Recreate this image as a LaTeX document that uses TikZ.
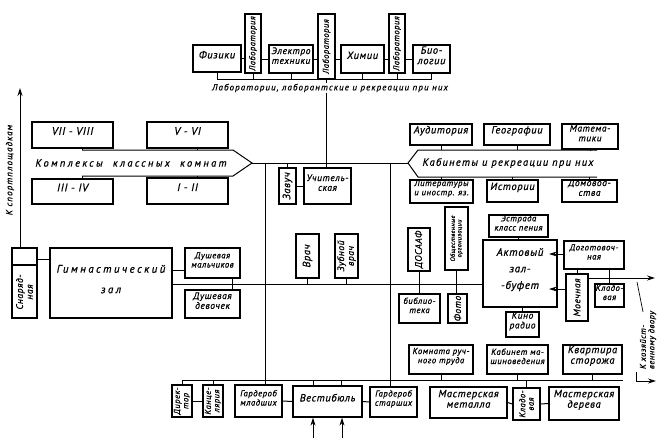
\documentclass[tikz,border=0pt]{standalone}
\usepackage{fontspec}
\setmainfont{PT Sans}
\newfontfamily\drA{PT Sans}[LetterSpace=6,FakeBold=0.6]
\newfontfamily\drB{PT Sans}[LetterSpace=12,FakeBold=0.6]
\newfontfamily\drC{PT Sans}[LetterSpace=22,FakeBold=0.6]
\usetikzlibrary{fit,arrows.meta}
\newcommand\tA{\drA\itshape\fontsize{10.5}{10.5}\selectfont}
\newcommand\tM{\drA\itshape\fontsize{9.5}{9.8}\selectfont}
\newcommand\tN{\drA\itshape\fontsize{8.7}{9.2}\selectfont}
\newcommand\tS{\drA\itshape\fontsize{8.5}{8.5}\selectfont}
\newcommand\tT{\drA\itshape\fontsize{6.3}{6.5}\selectfont}
\newcommand\tL{\drB\itshape\fontsize{9}{9.5}\selectfont}
\newcommand\tK{\drB\itshape\fontsize{10.5}{11}\selectfont}
\newcommand\tW{\drC\itshape\fontsize{10.5}{11}\selectfont}
\newcommand\tG{\drC\itshape\fontsize{11}{11.5}\selectfont}
\newcommand\tR{\drA\itshape\fontsize{11}{11.5}\selectfont}
\newcommand\Bx[5][]{\node[bx,fit={#3 #4},#1] (#2) {#5};}
\newcommand\Rb[5][]{\node[bx,fit={#3 #4}] (#2) {}; \node[rt,#1] (#2t) at (#2.center) {#5};}
\begin{document}
\begin{tikzpicture}[x=1pt,y=-1pt,
  bx/.style={draw,line width=1.3pt,inner sep=0pt,align=center,font=\tA},
  rt/.style={rotate=90,align=center,inner sep=0pt,font=\tM},
  ln/.style={line width=1pt},
  arr/.style={ln,-{Stealth[length=8pt,width=5pt]}}]
\useasboundingbox (0,0) rectangle (671,442);
\fill[white] (0,0) rectangle (671,442);

% ---------- top: laboratories ----------
\Bx{fiz}{(193,45)}{(241,72)}{Физики}
\Rb[font=\tS]{lab1}{(245,14)}{(261,73)}{Лаборатория}
\Bx[font=\tM]{elec}{(269,45)}{(313,73)}{Электро\\техники}
\Rb[font=\tS]{lab2}{(318,14)}{(335,79)}{Лаборатория}
\Bx{chem}{(341,45)}{(384,73)}{Химии}
\Rb[font=\tS]{lab3}{(389,14)}{(405,73)}{Лаборатория}
\Bx{bio}{(413,45)}{(450,73)}{Био-\\логии}
\draw[ln] (fiz.east) -- (fiz.east -| lab1.west);
\draw[ln] (lab1.east |- elec.west) -- (elec.west);
\draw[ln] (elec.east) -- (elec.east -| lab2.west);
\draw[ln] (lab2.east |- chem.west) -- (chem.west);
\draw[ln] (chem.east) -- (chem.east -| lab3.west);
\draw[ln] (lab3.east |- bio.west) -- (bio.west);
\coordinate (bT) at (0,79);
\draw[ln] (fiz.south) -- (fiz.south |- bT) -- (bio.south |- bT) -- (bio.south);
\foreach \n in {lab1,elec,chem,lab3} \draw[ln] (\n.south) -- (\n.south |- bT);

% ---------- middle column ----------
\Rb[font=\tA]{zav}{(279,168)}{(296,204)}{Завуч}
\Bx[font=\tM]{uch}{(304,168)}{(351,204)}{Учитель-\\ская}
\draw[ln] (lab2.south) -- (lab2.south |- uch.north);
\node[fill=white,inner sep=0.6pt,font=\tL] (labl) at (330,88) {Лаборатории, лаборантские и рекреации при них};
\draw[ln] (zav.east) -- (uch.west);

% ---------- class complexes ----------
\Bx[font=\tR]{c78}{(32,122)}{(113,148)}{VII - VIII}
\Bx[font=\tR]{c56}{(147,122)}{(228,148)}{V - VI}
\Bx[font=\tR]{c34}{(32,179)}{(113,204)}{III - IV}
\Bx[font=\tR]{c12}{(147,178)}{(228,204)}{I - II}
\coordinate (kTL) at (82,150); \coordinate (kTR) at (233,150);
\coordinate (kP) at (252,163);
\coordinate (kBR) at (233,176); \coordinate (kBL) at (82,176);
\coordinate (k56) at (197,150);
\draw[ln] (kTL) -- (kTR) -- (kP) -- (kBR) -- (kBL);
\draw[ln] (c78.south -| kTL) -- (kTL);
\draw[ln] (c34.north -| kBL) -- (kBL);
\draw[ln] (c56.south -| k56) -- (k56);
\draw[ln] (c12.north -| k56) -- (k56 |- kBL);
\node[font=\tW,inner sep=0pt] (kt) at (131,163) {Комплексы\ \ классных\ \ комнат};

% ---------- cabinets ----------
\Bx{aud}{(410,124)}{(472,145)}{Аудитория}
\Bx{geo}{(484,124)}{(550,145)}{Географии}
\Bx[font=\tM]{mat}{(562,124)}{(618,149)}{Матема-\\тики}
\Bx[font=\tN]{lit}{(410,180)}{(473,203)}{Литературы\\и иностр. яз.}
\Bx{ist}{(487,180)}{(538,202)}{Истории}
\Bx[font=\tM]{dom}{(562,180)}{(617,202)}{Домовод-\\ства}
\coordinate (cP) at (408,163);
\coordinate (cTL) at (418,150); \coordinate (cTR) at (597,150);
\coordinate (cBL) at (418,177); \coordinate (cBR) at (597,177);
\draw[ln] (cTR) -- (cTL) -- (cP) -- (cBL) -- (cBR);
\foreach \n in {aud,geo,mat} \draw[ln] (\n.south) -- (\n.south |- cTL);
\foreach \n in {lit,ist,dom} \draw[ln] (\n.north) -- (\n.north |- cBL);
\node[font=\tK,inner sep=0pt] (ct) at (508,163) {Кабинеты и рекреации при них};
\draw[ln] (kP) -- (cP);
\draw[ln] (zav.north) -- (zav.north |- kP);

% ---------- doctors, DOSAAF etc ----------
\coordinate (mb) at (0,284);
\Rb[font=\tA]{vr}{(296,234)}{(319,278)}{Врач}
\Rb{zvr}{(335,234)}{(358,278)}{Зубной\\врач}
\draw[ln] (vr.south) -- (vr.south |- mb);
\draw[ln] (zvr.south) -- (zvr.south |- mb);
\Rb{dos}{(408,228)}{(430,271)}{ДОСААФ}
\Rb[font=\tT]{obs}{(445,207)}{(468,270)}{Общественные\\организации}
\Bx[font=\tN]{bib}{(399,294)}{(440,323)}{библио-\\тека}
\Rb{foto}{(448,294)}{(467,323)}{Фото}
\draw[ln] (dos.south) -- (dos.south |- bib.north);
\draw[ln] (obs.south) -- (obs.south |- foto.north);

% ---------- assembly hall ----------
\Bx[font=\tR]{akt}{(483,240)}{(557,307)}{Актовый\\[5pt]зал-\\[5pt]-буфет}
\Bx[font=\tN]{estr}{(489,215)}{(548,237)}{Эстрада\\класс пения}
\Bx[font=\tM]{kino}{(506,312)}{(539,337)}{Кино\\радио}
\Bx[font=\tN]{dog}{(564,241)}{(624,269)}{Доготовоч-\\ная}
\Rb{moe}{(566,274)}{(588,321)}{Моечная}
\Bx[font=\tN]{klad1}{(595,284)}{(624,307)}{Кладо-\\вая}
\draw[ln] (estr.south) -- (estr.south |- akt.north);
\draw[ln] (kino.north) -- (kino.north |- akt.south);
\draw[ln] (moe.north) -- (moe.north |- dog.south);
\draw[ln] (klad1.north) -- (klad1.north |- dog.south);
\coordinate (a1) at (549,254); \coordinate (a2) at (549,289);
\draw[arr] (dog.west |- a1) -- (a1);
\draw[arr] (moe.west |- a2) -- (a2);
\coordinate (eR) at (655,278);
\draw[arr] (moe.east |- eR) -- (eR);
\coordinate (ld1) at (637,282); \coordinate (ld2) at (643,312);
\draw[line width=0.7pt] (ld1) -- (ld2);

% ---------- gym ----------
\node[bx,fit={(12,248) (37,318)}] (snar) {};
\coordinate (sd) at (0,265);
\draw[line width=1.3pt] (snar.west |- sd) -- (snar.east |- sd);
\node[rt] (snart) at (24.5,292) {Снаряд-\\ная};
\Bx[font=\tG]{gym}{(50,248)}{(172,318)}{Гимнастический\\[9pt]зал}
\Bx[font=\tN]{dm}{(185,248)}{(240,278)}{Душевая\\мальчиков}
\Bx[font=\tM]{dd}{(185,290)}{(240,318)}{Душевая\\девочек}
\coordinate (sg) at (0,259); \coordinate (gd) at (0,270); \coordinate (dx) at (232,0);
\draw[ln] (snar.east |- sg) -- (gym.west |- sg);
\draw[ln] (gym.east |- gd) -- (dm.west |- gd);
\draw[ln] (dm.south -| dx) -- (dd.north -| dx);
\draw[ln] (gym.east |- mb) -- (akt.west |- mb);
\coordinate (sp) at (20,88);
\draw[arr] (snar.north -| sp) -- (sp);
\node[rt,font=\tL] (spl) at (10,170) {К спортплощадкам};

% ---------- bottom row ----------
\Rb[font=\tS]{dir}{(172,385)}{(192,417)}{Дирек-\\тор}
\Rb[font=\tS]{kan}{(203,385)}{(223,417)}{Канце-\\лярия}
\Bx[font=\tN]{gm}{(235,385)}{(282,417)}{Гардероб\\младших}
\Bx{vest}{(293,386)}{(362,417)}{Вестибюль}
\Bx[font=\tN]{gs}{(370,387)}{(417,417)}{Гардероб\\старших}
\Bx{mm}{(430,387)}{(507,418)}{Мастерская\\металла}
\Rb[font=\tS]{klad2}{(513,388)}{(540,420)}{Кладо-\\вая}
\Bx{md}{(549,387)}{(619,420)}{Мастерская\\дерева}
\Bx[font=\tN]{krt}{(409,345)}{(473,374)}{Комната руч-\\ного труда}
\Bx[font=\tN]{kmash}{(487,345)}{(548,374)}{Кабинет ма-\\шиноведения}
\Bx{kvs}{(563,345)}{(622,374)}{Квартира\\сторожа}
\coordinate (v1) at (265,163); \coordinate (v2) at (390,163);
\draw[ln] (v1) -- (v1 |- gm.north);
\draw[ln] (v2) -- (v2 |- gs.north);
\coordinate (bb) at (0,380);
\draw[ln] (dir.north |- bb) -- (kvs.east |- bb);
\foreach \n in {dir,kan,klad2} \draw[ln] (\n.north) -- (\n.north |- bb);
\foreach \n in {krt,kmash,kvs} \draw[ln] (\n.south) -- (\n.south |- bb);
\coordinate (va) at (313,0); \coordinate (vb) at (341,0);
\draw[ln] (vest.north -| va) -- (bb -| va);
\draw[ln] (vest.north -| vb) -- (bb -| vb);
\draw[ln] (dir.east) -- (kan.west);
\draw[ln] (gm.east) -- (vest.west);
\draw[ln] (vest.east) -- (gs.west);
\draw[ln] (mm.east) -- (klad2.west);
\draw[ln] (klad2.east) -- (md.west);
\coordinate (e1) at (313,438); \coordinate (e2) at (342,438);
\draw[arr] (e1) -- (vest.south -| e1);
\draw[arr] (e2) -- (vest.south -| e2);
\coordinate (h1) at (636,372); \coordinate (h2) at (636,381); \coordinate (h3) at (656,381);
\draw[ln] (h1) -- (h2);
\draw[arr] (h2) -- (h3);
\node[rt,align=left,font=\tS] (hoz) at (648,340) {К хозяйст-\\венному двору};
\end{tikzpicture}
\end{document}
